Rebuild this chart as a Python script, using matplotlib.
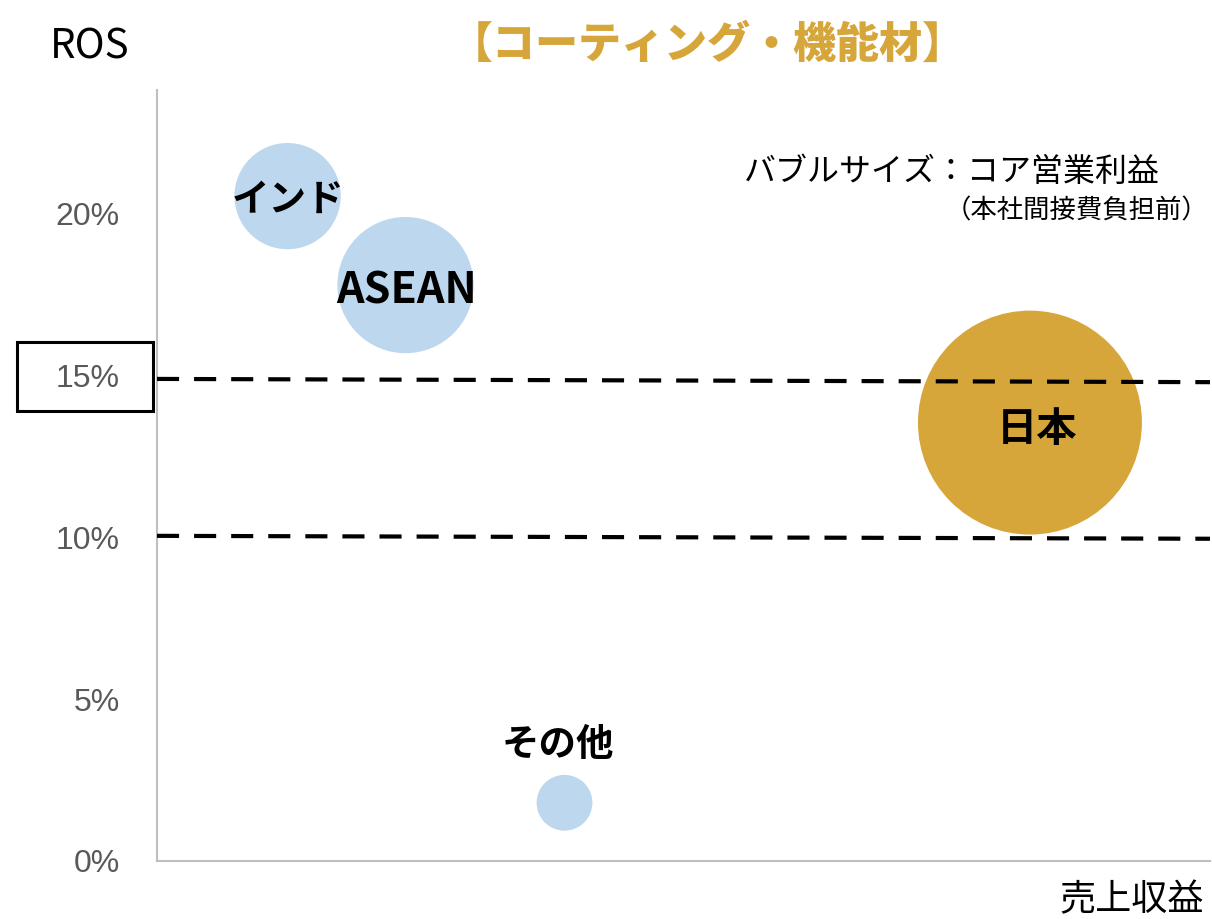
import matplotlib
matplotlib.use('Agg')
import matplotlib.pyplot as plt
import matplotlib.transforms as mtransforms
from matplotlib.patches import Rectangle

plt.rcParams['font.family'] = ['Noto Sans CJK JP', 'DejaVu Sans']

# 地域別データ (売上収益, ROS%, コア営業利益)
regions = ['インド', 'ASEAN', '日本', 'その他']
sales = [12.4, 23.6, 82.9, 38.7]
ros = [20.55, 17.8, 13.55, 1.8]
core_profit = [22.5, 37, 100, 6.2]
colors = ['#BDD7EE', '#BDD7EE', '#D6A63A', '#BDD7EE']

# ラベル位置・サイズの調整 (points)
label_offset = [(0, -2), (1, -4), (5, -5), (-5, 42)]
label_size = [27, 31, 29, 27]

yticks = [0, 5, 10, 15, 20]
ytick_labels = ['0%', '5%', '10%', '15%', '20%']

fig = plt.figure(figsize=(12.12, 9.19), dpi=100)
ax = fig.add_axes([157 / 1212, 58 / 919, 1053 / 1212, 771 / 919])

size_scale = 260
ax.scatter(sales, ros, s=[p * size_scale for p in core_profit], c=colors,
           edgecolors='none', zorder=2)

for name, x, y, off, fs in zip(regions, sales, ros, label_offset, label_size):
    ax.annotate(name, (x, y), xytext=off, textcoords='offset points',
                ha='center', va='center', fontsize=fs, fontweight='bold',
                color='black', zorder=4)

# 10% / 15% の基準線
trans = mtransforms.blended_transform_factory(ax.transAxes, ax.transData)
for y0, y1 in [(14.9, 14.8), (10.05, 9.96)]:
    ax.plot([0, 1], [y0, y1], transform=trans, color='black', lw=3,
            dashes=(5.3, 3.6), zorder=3, clip_on=False)

ax.set_xlim(0, 100)
ax.set_ylim(0, 23.83)
ax.set_xticks([])
ax.set_yticks(yticks)
ax.set_yticklabels(ytick_labels, family='Liberation Sans', fontsize=23,
                   color='#595959')
ax.tick_params(axis='y', length=0, pad=27)

for side in ['top', 'right']:
    ax.spines[side].set_visible(False)
for side in ['left', 'bottom']:
    ax.spines[side].set_color('#BFBFBF')
    ax.spines[side].set_linewidth(1.5)

# 15% ラベルの枠
fig.patches.append(Rectangle((17 / 1212, (919 - 411) / 919), 136 / 1212, 69 / 919,
                             transform=fig.transFigure, fill=False,
                             edgecolor='black', lw=2.2))

fig.text(90 / 1212, 1 - 47 / 919, 'ROS', ha='center', va='center', fontsize=29)
fig.text(708 / 1212, 1 - 45 / 919, '【コーティング・機能材】', ha='center',
         va='center', fontsize=31, fontweight='heavy', color='#D6A63A')
fig.text(1160 / 1212, 1 - 172 / 919, 'バブルサイズ：コア営業利益', ha='right',
         va='center', fontsize=23)
fig.text(1208 / 1212, 1 - 211 / 919, '（本社間接費負担前）', ha='right',
         va='center', fontsize=19)
fig.text(1204 / 1212, 1 - 900 / 919, '売上収益', ha='right', va='center',
         fontsize=26)

fig.savefig('out.png', dpi=100)
